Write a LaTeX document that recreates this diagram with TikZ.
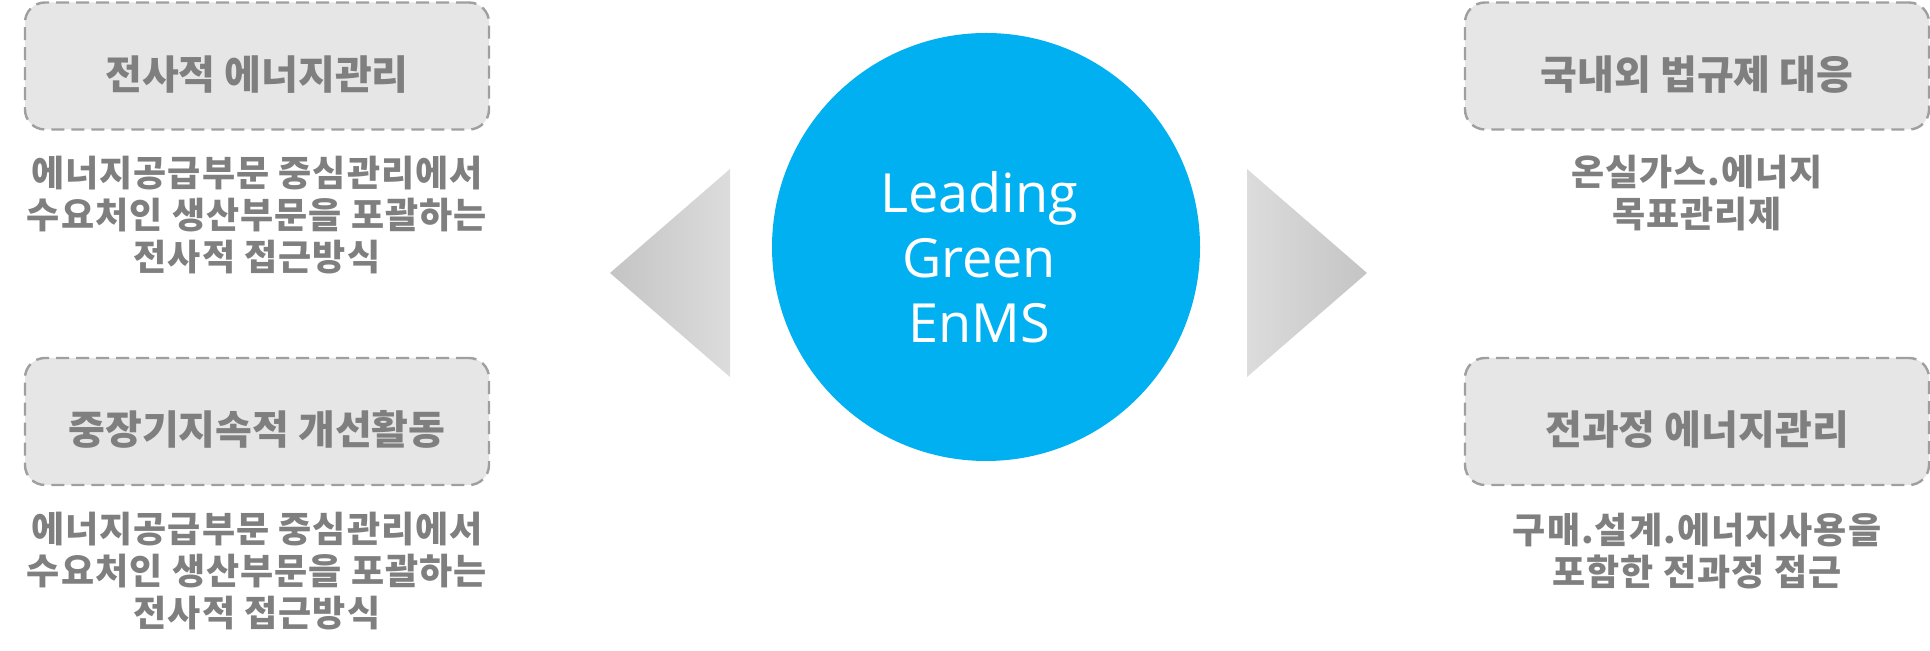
\documentclass[tikz,border=0pt]{standalone}
\usepackage{fontspec}
\setmainfont{Noto Sans CJK KR}
\newfontfamily\descfont{Noto Sans CJK KR}[LetterSpace=3]
\newfontfamily\enfont{Open Sans}
\definecolor{boxgray}{HTML}{E6E6E6}
\definecolor{linegray}{HTML}{9F9F9F}
\definecolor{textgray}{HTML}{7F7F7F}
\definecolor{enmsblue}{HTML}{00B0F0}
\definecolor{tipgray}{HTML}{C4C4C4}
\definecolor{basegray}{HTML}{DCDCDC}
\tikzset{
  goalbox/.style={draw=linegray, fill=boxgray, line width=1.2pt, dash pattern=on 6.5pt off 3.5pt,
    rounded corners=10pt, minimum width=232pt, minimum height=63.5pt, text=textgray,
    text height=25pt, text depth=1.5pt, font=\bfseries\fontsize{20}{24}\selectfont},
  goaltext/.style={text=textgray, align=center, font=\descfont\bfseries\fontsize{18}{21}\selectfont}
}

\begin{document}
\begin{tikzpicture}[x=0.5pt,y=0.5pt]
\useasboundingbox (0,0) rectangle (1930,651);
% arrows
\shade[left color=tipgray, right color=basegray] (610,378) -- (730,482) -- (730,274) -- cycle;
\shade[left color=basegray, right color=tipgray] (1367,378) -- (1247,482) -- (1247,274) -- cycle;
% center circle
\node[circle, fill=enmsblue, minimum size=214pt] (enms) at (986,404) {};
\node[text=white, align=center, font=\enfont\fontsize{27}{32.5}\selectfont] (enmslabel) at (979,393.5) {Leading\\Green\\EnMS};
% left side
\node[goalbox] (whole) at (257,585) {전사적 에너지관리};
\node[goaltext] (wholetext) at (257,436) {에너지공급부문 중심관리에서\\수요처인 생산부문을 포괄하는\\전사적 접근방식};
\node[goalbox] (longterm) at (257,229.5) {중장기지속적 개선활동};
\node[goaltext] (longtermtext) at (257,80) {에너지공급부문 중심관리에서\\수요처인 생산부문을 포괄하는\\전사적 접근방식};
% right side
\node[goalbox] (regul) at (1697,585) {국내외 법규제 대응};
\node[goaltext] (regultext) at (1697,458) {온실가스.에너지\\목표관리제};
\node[goalbox] (process) at (1697,229.5) {전과정 에너지관리};
\node[goaltext] (processtext) at (1697,99.5) {구매.설계.에너지사용을\\포함한 전과정 접근};
\end{tikzpicture}
\end{document}
